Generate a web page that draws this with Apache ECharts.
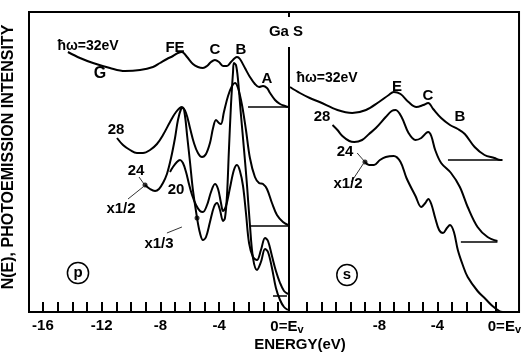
<!DOCTYPE html>
<html>
<head>
<meta charset="utf-8">
<script src="https://cdn.jsdelivr.net/npm/echarts@6/dist/echarts.min.js"></script>
<style>
html, body { margin: 0; padding: 0; background: #fff; }
#main { width: 524px; height: 356px; }
</style>
</head>
<body>
<div id="main"></div>
<script>
// GaS N(E) spectra, [energy (eV, 0 = Ev), intensity (arb.)]
// panel (p)
const p32 = [[-14.30,260],[-13.48,254],[-12.59,249],[-11.44,244],[-10.42,241],[-9.39,242],[-8.51,245],[-8.03,249],[-7.56,253],[-7.15,256],[-6.81,259],[-6.54,260],[-6.19,255],[-5.79,248],[-5.45,245],[-5.11,244],[-4.83,246],[-4.56,250],[-4.29,252],[-4.02,250],[-3.74,246],[-3.47,246],[-3.20,250],[-2.93,254],[-2.79,255],[-2.59,253],[-2.25,244],[-1.91,235],[-1.57,228],[-1.29,225],[-1.02,226],[-0.75,224],[-0.54,219],[-0.20,212],[0.14,208],[0.48,206],[0.68,205]];
const p28 = [[-10.96,174],[-10.55,167],[-10.07,162],[-9.60,159],[-9.19,159],[-8.71,162],[-8.24,168],[-7.83,177],[-7.35,190],[-6.94,200],[-6.54,205],[-6.26,199],[-5.99,184],[-5.72,169],[-5.45,159],[-5.17,155],[-4.90,158],[-4.63,169],[-4.42,184],[-4.22,192],[-4.02,189],[-3.88,188],[-3.68,200],[-3.40,216],[-3.13,226],[-2.93,229],[-2.72,224],[-2.45,207],[-2.18,182],[-1.91,154],[-1.57,135],[-1.29,129],[-1.02,128],[-0.75,123],[-0.41,109],[-0.07,97],[0.34,90],[0.68,87]];
const p24 = [[-9.05,127],[-8.71,123],[-8.37,121],[-8.10,123],[-7.83,129],[-7.56,138],[-7.28,154],[-7.01,174],[-6.81,192],[-6.60,203],[-6.47,204],[-6.33,196],[-6.19,177],[-5.99,150],[-5.79,122],[-5.51,94],[-5.31,79],[-5.11,72],[-4.90,75],[-4.63,90],[-4.36,105],[-4.15,109],[-3.95,102],[-3.74,91],[-3.61,94],[-3.47,117],[-3.34,162],[-3.20,207],[-3.06,240],[-3.00,249],[-2.86,247],[-2.72,232],[-2.52,197],[-2.31,162],[-2.11,127],[-1.91,87],[-1.70,54],[-1.43,42],[-1.16,50],[-0.88,63],[-0.68,60],[-0.41,44],[-0.14,24],[0.14,12],[0.41,5],[0.68,2]];
const p20 = [[-7.35,140],[-7.15,145],[-6.88,150],[-6.67,152],[-6.47,149],[-6.26,140],[-6.06,128],[-5.85,117],[-5.58,107],[-5.31,101],[-5.11,100],[-4.83,107],[-4.56,120],[-4.29,128],[-4.08,123],[-3.88,109],[-3.74,101],[-3.54,106],[-3.27,124],[-3.00,142],[-2.79,147],[-2.59,141],[-2.38,126],[-2.18,99],[-1.97,69],[-1.70,55],[-1.43,52],[-1.16,62],[-0.88,74],[-0.68,71],[-0.41,56],[-0.14,41],[0.14,29],[0.41,21],[0.68,18]];
const pBase32 = [[-2.04,205],[0.68,205]];
const pBase28 = [[-1.91,86],[0.75,86]];
const pBase20 = [[-0.34,16],[0.61,16]];
const pDots = [[-9.05,127],[-5.51,94]];
const pPointers = [
  [[-9.46,135],[-9.12,128]],
  [[-10.21,113],[-9.19,125]],
  [[-7.56,79],[-6.54,85]]
];

// panel (s)
const s32 = [[-14.16,225],[-13.48,219],[-12.80,214],[-12.12,210],[-10.89,202],[-9.87,199],[-8.92,202],[-8.03,210],[-7.35,217],[-7.01,220],[-6.54,218],[-5.99,210],[-5.45,205],[-4.97,207],[-4.63,209],[-4.29,203],[-3.74,194],[-3.13,187],[-2.59,183],[-2.11,178],[-1.43,165],[-0.75,157],[-0.07,154],[0.34,152],[0.48,152]];
const s28 = [[-11.23,187],[-10.89,182],[-10.55,176],[-10.07,171],[-9.73,170],[-9.19,172],[-8.71,178],[-8.24,184],[-7.56,195],[-7.15,201],[-6.88,202],[-6.47,195],[-5.99,179],[-5.51,172],[-5.11,174],[-4.77,179],[-4.63,180],[-4.42,176],[-4.15,162],[-3.74,149],[-3.06,139],[-2.45,125],[-1.91,105],[-1.23,85],[-0.54,75],[0.14,71]];
const s24 = [[-8.99,150],[-8.71,147],[-8.37,147],[-7.96,152],[-7.56,155],[-7.01,156],[-6.54,150],[-6.13,134],[-5.51,116],[-5.11,105],[-4.83,109],[-4.63,113],[-4.42,108],[-4.15,94],[-3.88,82],[-3.61,79],[-3.34,84],[-3.13,87],[-2.86,80],[-2.59,62],[-2.25,47],[-1.91,35],[-1.23,21],[-0.68,13],[-0.20,6],[0.27,1],[0.50,0]];
const sBase32 = [[-3.27,152],[0.48,152]];
const sBase28 = [[-2.38,70],[0.14,70]];
const sDots = [[-8.99,150]];
const sPointers = [
  [[-9.53,159],[-8.99,150]],
  [[-9.94,130],[-9.12,148]]
];

// axis ticks and labels
const pTicks = [-16,-15,-14,-13,-12,-11,-10,-9,-8,-7,-6,-5,-4,-3,-2,-1,0];
const pLabels = [-16,-12,-8,-4,0];
const sTicks = [-13,-12,-11,-10,-9,-8,-7,-6,-5,-4,-3,-2,-1,0];
const sLabels = [-8,-4,0];

const FONT = 'Liberation Sans';

function curve(data, i) {
  return {
    type: 'line', data: data, xAxisIndex: i, yAxisIndex: i,
    showSymbol: false, smooth: 0.35, silent: true,
    lineStyle: { color: '#000', width: 2 }
  };
}
function thin(data, i, w) {
  return {
    type: 'line', data: data, xAxisIndex: i, yAxisIndex: i,
    showSymbol: false, silent: true,
    lineStyle: { color: '#000', width: w }
  };
}
function dots(data, i) {
  return {
    type: 'scatter', data: data, xAxisIndex: i, yAxisIndex: i,
    symbolSize: 5, silent: true, itemStyle: { color: '#000' }
  };
}
function xAxis(i, min, max, ticks, labels) {
  return {
    type: 'value', gridIndex: i, min: min, max: max,
    axisLine: { show: true, lineStyle: { color: '#000', width: 2 } },
    axisTick: { show: true, inside: true, length: 10, customValues: ticks, lineStyle: { color: '#000', width: 2 } },
    axisLabel: {
      customValues: labels, color: '#000', fontFamily: FONT, fontWeight: 'bold', fontSize: 15, margin: 6,
      formatter: v => v === 0 ? '{z|0=E}{s|v}' : String(v),
      rich: {
        z: { fontFamily: FONT, fontWeight: 'bold', fontSize: 15, color: '#000', padding: [0, 0, 0, 18] },
        s: { fontFamily: FONT, fontWeight: 'bold', fontSize: 11, color: '#000', padding: [6, 0, 0, 0] }
      }
    },
    splitLine: { show: false }
  };
}
function yAxis(i) {
  return { type: 'value', gridIndex: i, min: 0, max: 300, show: false };
}
function txt(text, x, y, size, extra, rot) {
  return {
    type: 'text', x: x, y: y, rotation: rot || 0, silent: true,
    style: Object.assign({
      text: text, fill: '#000', font: 'bold ' + size + 'px "' + FONT + '"',
      align: 'center', verticalAlign: 'middle'
    }, extra || {})
  };
}
const circled = { borderColor: '#000', borderWidth: 1.5, borderRadius: 11, padding: [3, 6, 3, 6] };

const chart = echarts.init(document.getElementById('main'), null, { renderer: 'canvas' });
chart.setOption({
  animation: false,
  backgroundColor: '#fff',
  grid: [
    { left: 29, top: 12, width: 260, height: 300, show: true, borderColor: '#000', borderWidth: 2 },
    { left: 289, top: 12, width: 233, height: 300, show: true, borderColor: '#000', borderWidth: 2 }
  ],
  xAxis: [
    xAxis(0, -16.95, 0.75, pTicks, pLabels),
    xAxis(1, -14.23, 1.63, sTicks, sLabels)
  ],
  yAxis: [yAxis(0), yAxis(1)],
  series: [
    curve(p32, 0), curve(p28, 0), curve(p24, 0), curve(p20, 0),
    thin(pBase32, 0, 1.3), thin(pBase28, 0, 1.3), thin(pBase20, 0, 1.3),
    thin(pPointers[0], 0, 0.8), thin(pPointers[1], 0, 0.8), thin(pPointers[2], 0, 0.8),
    dots(pDots, 0),
    curve(s32, 1), curve(s28, 1), curve(s24, 1),
    thin(sBase32, 1, 1.3), thin(sBase28, 1, 1.3),
    thin(sPointers[0], 1, 0.8), thin(sPointers[1], 1, 0.8),
    dots(sDots, 1)
  ],
  graphic: [
    txt('N(E), PHOTOEMISSION INTENSITY', 9, 157, 16, null, Math.PI / 2),
    txt('ENERGY(eV)', 300, 345, 15),
    txt('Ga S', 286, 32, 15, { backgroundColor: '#fff', padding: [9, 1, 6, 1] }),
    txt('ħω=32eV', 88, 46, 14),
    txt('G', 100, 74, 16),
    txt('FE', 175, 48, 15),
    txt('C', 215, 50, 15),
    txt('B', 241, 50, 15),
    txt('A', 267, 79, 15),
    txt('28', 116, 130, 15),
    txt('24', 136, 171, 15),
    txt('x1/2', 121, 209, 15),
    txt('20', 176, 190, 15),
    txt('x1/3', 159, 244, 15),
    txt('p', 78, 273, 15, circled),
    txt('ħω=32eV', 327, 78, 14),
    txt('E', 397, 87, 15),
    txt('C', 428, 96, 15),
    txt('B', 460, 117, 15),
    txt('28', 322, 117, 15),
    txt('24', 345, 152, 15),
    txt('x1/2', 348, 184, 15),
    txt('s', 347, 275, 15, circled)
  ]
});
</script>
</body>
</html>
